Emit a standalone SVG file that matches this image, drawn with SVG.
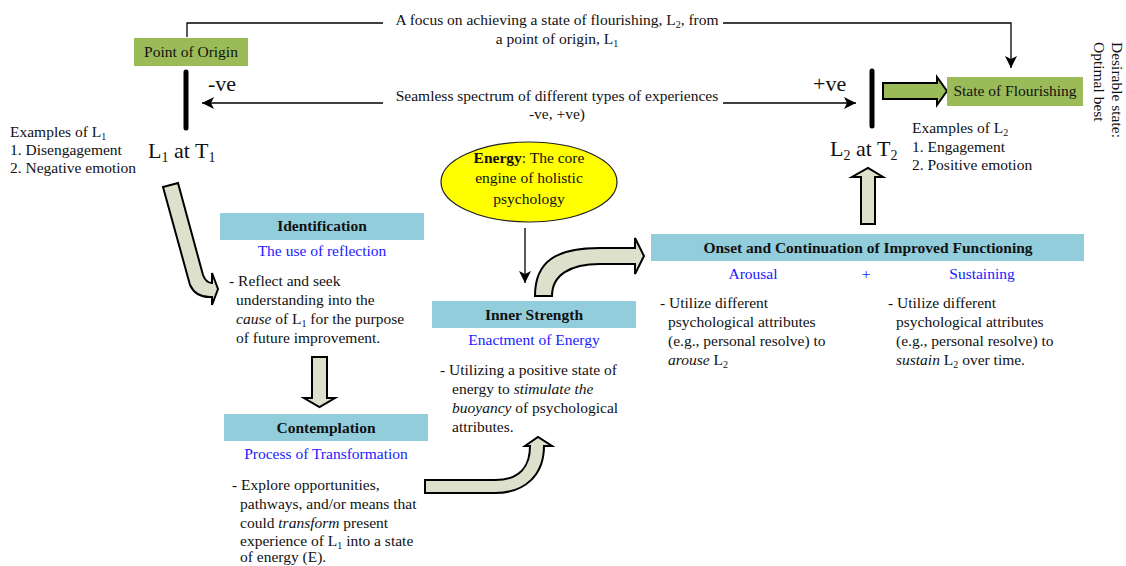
<svg xmlns="http://www.w3.org/2000/svg" width="1126" height="566" viewBox="0 0 1126 566">
<defs>
<marker id="ahL" viewBox="0 0 12 12" refX="12" refY="6" markerWidth="12" markerHeight="12" markerUnits="userSpaceOnUse" orient="auto">
<path d="M0,0 L12,6 L0,12 L3,6 Z" fill="#000"/>
</marker>
<style>
text{font-family:"Liberation Serif","Times New Roman",serif;fill:#111;font-size:15.5px}
.c{text-anchor:middle}
.b{font-weight:bold}
.bl{fill:#1a1aff}
.big{font-size:22px}
.mid{font-size:22px}
.sub{font-size:10px}
.hdr{fill:#92cddc}
.grn{fill:#9bbb59}
.blk{fill:#dde0cb;stroke:#000;stroke-width:2;stroke-linejoin:miter}
.ln{fill:none;stroke:#000;stroke-width:1.3}
.bar{stroke:#000;stroke-width:5;stroke-linecap:round}
</style>
</defs>

<g id="connectors">
<polyline class="ln" points="187,37 187,23 383,23"/>
<polyline class="ln" points="723,23 1011,23 1011,68" marker-end="url(#ahL)"/>
<line class="ln" x1="383" y1="103" x2="202" y2="103" marker-end="url(#ahL)"/>
<line class="ln" x1="723" y1="103" x2="856" y2="103" marker-end="url(#ahL)"/>
<line class="ln" x1="525" y1="228" x2="525" y2="283" marker-end="url(#ahL)"/>
<line class="bar" x1="186" y1="72" x2="186" y2="128"/>
<line class="bar" x1="872" y1="71" x2="872" y2="126"/>
<path class="grn" stroke="#000" stroke-width="2" d="M883,83 L937,83 L937,77 L947,91 L937,105 L937,99 L883,99 Z"/>
<path class="blk" d="M163,187 L178,183 L203,275 Q206,283 212,283 L212,273 L218,289 L212,305 L212,297 Q196,298 190,285 Z"/>
<path class="blk" d="M312,357 L327,357 L327,398 L335,398 L319.5,407 L304,398 L312,398 Z"/>
<path class="blk" d="M861,224 L875,224 L875,177 L883,177 L868,168 L852,177 L861,177 Z"/>
<path class="blk" d="M425,480 L495,480 C520,480 530,466 530,446 L525,446 L538,437 L552,446 L544,446 C544,475 525,493 495,493 L425,493 Z"/>
<path class="blk" d="M535,296 C535,262 555,248 600,248 L635,248 L635,238 L644,256 L635,274 L635,264 L600,264 C570,264 552,275 552,296 Z"/>
</g>

<g id="top-labels">
<text class="c" x="557" y="25">A focus on achieving a state of flourishing, L<tspan class="sub" dy="3">2</tspan><tspan dy="-3">, from</tspan></text>
<text class="c" x="557" y="44">a point of origin, L<tspan class="sub" dy="3">1</tspan></text>
<text class="c" x="557" y="101">Seamless spectrum of different types of experiences</text>
<text class="c" x="557" y="119">-ve, +ve)</text>
<text class="mid" x="208" y="91">-ve</text>
<text class="mid" x="813" y="91">+ve</text>
</g>

<g id="point-of-origin">
<rect class="grn" x="134" y="38" width="114" height="28"/>
<text class="c" x="191" y="57">Point of Origin</text>
</g>

<g id="state-of-flourishing">
<rect class="grn" x="947" y="77" width="136" height="29"/>
<text class="c" x="1015" y="96">State of Flourishing</text>
</g>

<g id="desirable-state">
<text transform="translate(1112,42) rotate(90)">Desirable state:</text>
<text transform="translate(1094,42) rotate(90)">Optimal best</text>
</g>

<g id="L1">
<text class="big" x="148" y="158">L<tspan style="font-size:14px" dy="4">1</tspan><tspan dy="-4"> at T</tspan><tspan style="font-size:14px" dy="4">1</tspan></text>
<text x="10" y="137">Examples of L<tspan class="sub" dy="3">1</tspan></text>
<text x="10" y="155">1. Disengagement</text>
<text x="10" y="173">2. Negative emotion</text>
</g>

<g id="L2">
<text class="big" x="830" y="156">L<tspan style="font-size:14px" dy="4">2</tspan><tspan dy="-4"> at T</tspan><tspan style="font-size:14px" dy="4">2</tspan></text>
<text x="912" y="133">Examples of L<tspan class="sub" dy="3">2</tspan></text>
<text x="912" y="152">1. Engagement</text>
<text x="912" y="170">2. Positive emotion</text>
</g>

<g id="identification">
<rect class="hdr" x="220" y="213" width="204" height="27"/>
<text class="c b" x="322" y="231">Identification</text>
<text class="c bl" x="322" y="256">The use of reflection</text>
<text x="229" y="286">- Reflect and seek</text>
<text x="236" y="305">understanding into the</text>
<text x="236" y="324"><tspan font-style="italic">cause</tspan> of L<tspan class="sub" dy="3">1</tspan><tspan dy="-3"> for the purpose</tspan></text>
<text x="236" y="343">of future improvement.</text>
</g>

<g id="contemplation">
<rect class="hdr" x="224" y="414" width="204" height="27"/>
<text class="c b" x="326" y="433">Contemplation</text>
<text class="c bl" x="326" y="459">Process of Transformation</text>
<text x="232" y="490">- Explore opportunities,</text>
<text x="240" y="509">pathways, and/or means that</text>
<text x="240" y="528">could <tspan font-style="italic">transform</tspan> present</text>
<text x="240" y="546">experience of L<tspan class="sub" dy="3">1</tspan><tspan dy="-3"> into a state</tspan></text>
<text x="240" y="562">of energy (E).</text>
</g>

<g id="energy">
<ellipse cx="529" cy="182" rx="88" ry="40" fill="#ffff00" stroke="#222" stroke-width="1.2"/>
<text class="c" x="529" y="163"><tspan class="b">Energy</tspan>: The core</text>
<text class="c" x="529" y="183">engine of holistic</text>
<text class="c" x="529" y="204">psychology</text>
</g>

<g id="inner-strength">
<rect class="hdr" x="432" y="301" width="204" height="27"/>
<text class="c b" x="534" y="320">Inner Strength</text>
<text class="c bl" x="534" y="345">Enactment of Energy</text>
<text x="440" y="375">- Utilizing a positive state of</text>
<text x="452" y="394">energy to <tspan font-style="italic">stimulate the</tspan></text>
<text x="452" y="413"><tspan font-style="italic">buoyancy</tspan> of psychological</text>
<text x="452" y="432">attributes.</text>
</g>

<g id="onset">
<rect class="hdr" x="651" y="234" width="433" height="27"/>
<text class="c b" x="868" y="253">Onset and Continuation of Improved Functioning</text>
<text class="c bl" x="753" y="279">Arousal</text>
<text class="c bl" x="866" y="279">+</text>
<text class="c bl" x="982" y="279">Sustaining</text>
<text x="660" y="308">- Utilize different</text>
<text x="668" y="327">psychological attributes</text>
<text x="668" y="346">(e.g., personal resolve) to</text>
<text x="668" y="365"><tspan font-style="italic">arouse</tspan> L<tspan class="sub" dy="3">2</tspan></text>
<text x="888" y="308">- Utilize different</text>
<text x="896" y="327">psychological attributes</text>
<text x="896" y="346">(e.g., personal resolve) to</text>
<text x="896" y="365"><tspan font-style="italic">sustain</tspan> L<tspan class="sub" dy="3">2</tspan><tspan dy="-3"> over time.</tspan></text>
</g>
</svg>
